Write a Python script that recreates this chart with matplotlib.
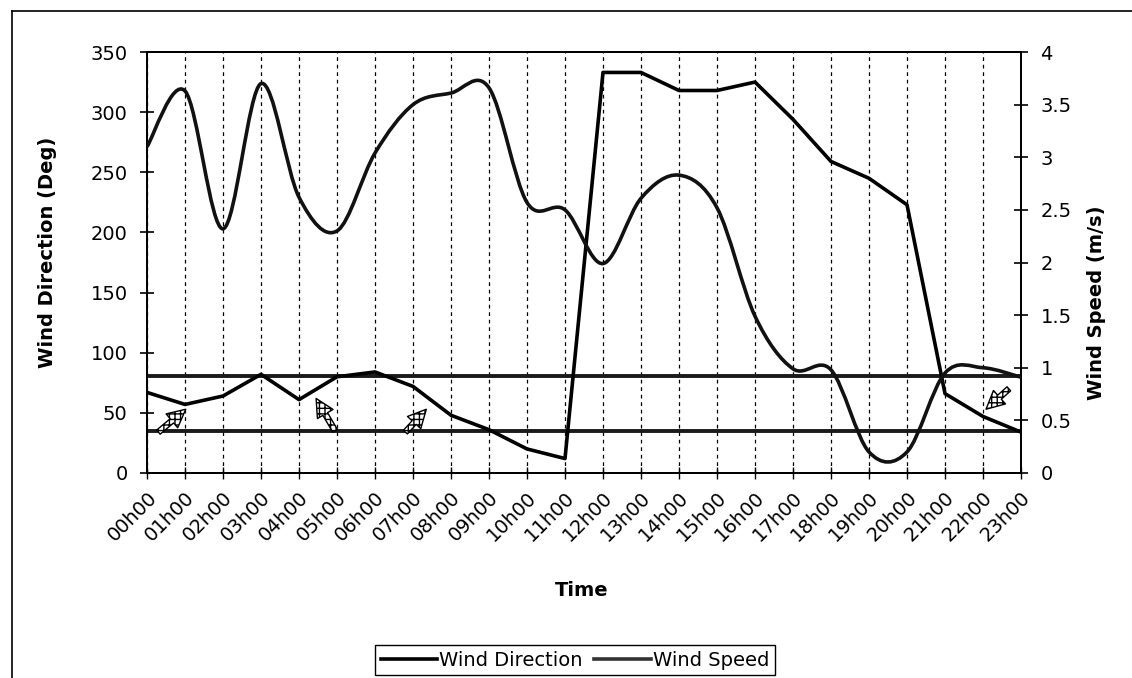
import matplotlib
matplotlib.use("Agg")
import matplotlib.pyplot as plt
from matplotlib.path import Path
from matplotlib.patches import PathPatch
from matplotlib.lines import Line2D
import numpy as np

# ---- data ----
hours = ["00h00", "01h00", "02h00", "03h00", "04h00", "05h00", "06h00", "07h00",
         "08h00", "09h00", "10h00", "11h00", "12h00", "13h00", "14h00", "15h00",
         "16h00", "17h00", "18h00", "19h00", "20h00", "21h00", "22h00", "23h00"]
wind_direction = [67, 57, 64, 82, 61, 80, 84, 72, 48, 36, 20, 12,
                  333, 333, 318, 318, 325, 294, 259, 245, 223, 66, 47, 34]
wind_speed = [3.10, 3.63, 2.32, 3.70, 2.62, 2.30, 3.04, 3.50, 3.61, 3.66, 2.57, 2.50,
              1.99, 2.61, 2.83, 2.52, 1.49, 0.99, 0.98, 0.20, 0.20, 0.95, 1.00, 0.91]
sector_limits = [35, 81]          # horizontal reference lines (deg)
# arrow annotations: (tail hour index, tail deg, tip hour index, tip deg)
arrows = [(0.3, 34, 1.02, 53), (4.95, 35, 4.45, 62), (6.8, 34, 7.35, 53),
          (22.68, 70, 22.08, 53)]

W, H = 1132, 678
fig = plt.figure(figsize=(W / 100, H / 100), dpi=100)
L, R, T, B = 147, 1021, 52, 473
ax = fig.add_axes([L / W, 1 - B / H, (R - L) / W, (B - T) / H])
x = np.arange(len(hours))

FS = 14
ax.plot(x, wind_direction, color="black", lw=2.6, solid_joinstyle="round", zorder=4)
for v in sector_limits:
    ax.axhline(v, color="#1a1a1a", lw=2.8, zorder=3)
ax.set_xlim(0, len(hours) - 1)
ax.set_ylim(0, 350)
ax.set_yticks(np.arange(0, 351, 50))
ax.set_xticks(x)
ax.set_xticklabels(hours, rotation=45, ha="right", rotation_mode="anchor", fontsize=FS)
ax.xaxis.grid(True, linestyle=(0, (3, 3)), color="black", lw=0.9)
ax.tick_params(axis="y", direction="inout", length=10, width=1.2, labelsize=FS, pad=9)
ax.tick_params(axis="x", direction="inout", length=9, width=1.0, pad=6)

ax2 = ax.twinx()
ax2.set_ylim(0, 4)
ax2.set_yticks(np.arange(0, 4.01, 0.5))
ax2.set_yticklabels(["0", "0.5", "1", "1.5", "2", "2.5", "3", "3.5", "4"])
ax2.tick_params(axis="y", direction="inout", length=10, width=1.2, labelsize=FS, pad=9)

# smoothed speed curve (cubic Bezier through the points, like Excel's smoothed line)
n = len(wind_speed)
verts = [(x[0], wind_speed[0])]
codes = [Path.MOVETO]
for i in range(n - 1):
    pm = wind_speed[i - 1] if i > 0 else wind_speed[i]
    xm = x[i - 1] if i > 0 else x[i]
    pp = wind_speed[i + 2] if i + 2 < n else wind_speed[i + 1]
    xp = x[i + 2] if i + 2 < n else x[i + 1]
    c1 = (x[i] + (x[i + 1] - xm) / 6, wind_speed[i] + (wind_speed[i + 1] - pm) / 6)
    c2 = (x[i + 1] - (xp - x[i]) / 6, wind_speed[i + 1] - (pp - wind_speed[i]) / 6)
    verts += [c1, c2, (x[i + 1], wind_speed[i + 1])]
    codes += [Path.CURVE4] * 3
ax2.add_patch(PathPatch(Path(verts, codes), fill=False, ec="#111111", lw=2.6,
                        joinstyle="round", zorder=4))

for a in (ax, ax2):
    for s in a.spines.values():
        s.set_linewidth(1.4)
        s.set_color("black")

for (tx, ty, hx, hy) in arrows:
    ax.annotate("", xy=(hx, hy), xytext=(tx, ty),
                arrowprops=dict(arrowstyle="simple,head_length=1.0,head_width=1.0,tail_width=0.3",
                                fc="white", ec="black", lw=1.0, hatch="+++",
                                mutation_scale=13, shrinkA=0, shrinkB=0), zorder=5)

ax.set_ylabel("Wind Direction (Deg)", fontsize=FS, fontweight="bold", ha="center", va="center")
ax.yaxis.set_label_coords((48 - L) / (R - L), (B - 252) / (B - T))
ax2.set_ylabel("Wind Speed (m/s)", fontsize=FS, fontweight="bold", rotation=90,
               ha="center", va="center")
ax2.yaxis.set_label_coords((1097 - L) / (R - L), (B - 303) / (B - T))
ax.set_xlabel("Time", fontsize=FS, fontweight="bold", va="center")
ax.xaxis.set_label_coords((582 - L) / (R - L), (B - 590) / (B - T))

handles = [Line2D([], [], color="black", lw=2.6), Line2D([], [], color="#333333", lw=2.6)]
leg = fig.legend(handles, ["Wind Direction", "Wind Speed"], loc="center",
                 bbox_to_anchor=(575 / W, 1 - 660 / H), ncol=2, frameon=True,
                 fancybox=False, edgecolor="black", framealpha=1, fontsize=FS,
                 handlelength=2.9, handletextpad=0.1, columnspacing=0.6, borderpad=0.3)
leg.get_frame().set_linewidth(1.0)

# outer chart border (left and top edges visible in the scan)
fig.add_artist(Line2D([12 / W, 12 / W], [0, 1 - 11 / H], transform=fig.transFigure,
                      color="black", lw=1.2))
fig.add_artist(Line2D([12 / W, 1], [1 - 11 / H, 1 - 11 / H], transform=fig.transFigure,
                      color="black", lw=1.2))

fig.savefig("out.png", dpi=100)
